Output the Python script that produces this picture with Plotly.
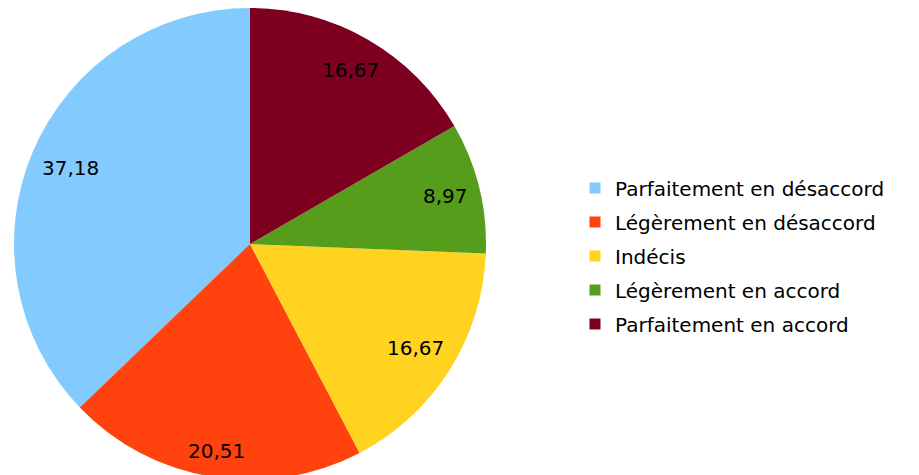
import math
import plotly.graph_objects as go

labels = ["Parfaitement en désaccord", "Légèrement en désaccord", "Indécis",
          "Légèrement en accord", "Parfaitement en accord"]
values = [37.18, 20.51, 16.67, 8.97, 16.67]
colors = ["#83CAFF", "#FF420E", "#FFD320", "#579D1C", "#7E0021"]

FONT = "DejaVu Sans, Verdana, sans-serif"
FS = 20
W, H = 911, 472          # page has an 8px body margin
R = H / 2                # pie radius (px)
CX, CY = 242, H / 2      # pie centre inside the figure (px)
dom_x = [(CX - R) / W, (CX + R) / W]

total = sum(values)
fig = go.Figure()
fig.add_trace(go.Pie(
    labels=labels, values=values, sort=False, direction="counterclockwise",
    rotation=-values[0] / total * 360,
    marker=dict(colors=colors, line=dict(width=0)),
    textinfo="none", hoverinfo="label+value", showlegend=False,
    domain=dict(x=dom_x, y=[0, 1]),
))

# value labels: placed inside each slice, box touching the outer part
def text_width(t, fs):
    return sum(0.318 * fs if c in ",." else 0.636 * fs for c in t)

cum = 0
for v in values:
    mid = math.radians((cum + v / 2) / total * 360)
    cum += v
    t = f"{v:.2f}".replace(".", ",")
    hw = text_width(t, FS) / 2 + 2
    hh = 0.68 * FS
    ext = abs(math.sin(mid)) * hw + abs(math.cos(mid)) * hh
    r = 0.968 * R - ext
    px = CX - r * math.sin(mid)
    py = CY - r * math.cos(mid)
    fig.add_annotation(x=px / W, y=1 - py / H, xref="paper", yref="paper",
                       text=t, showarrow=False, xanchor="center", yanchor="middle",
                       font=dict(family=FONT, size=FS, color="black"))

# legend entries
for i, (lab, col) in enumerate(zip(labels, colors)):
    fig.add_trace(go.Scatter(
        x=[None], y=[None], mode="markers", name=lab, legendgroup=f"g{i}",
        marker=dict(symbol="square", size=11, color=col, line=dict(width=0)),
        hoverinfo="skip",
    ))

fig.update_layout(
    width=W, height=H,
    margin=dict(l=0, r=0, t=0, b=0),
    paper_bgcolor="white", plot_bgcolor="white",
    font=dict(family=FONT, size=FS, color="black"),
    xaxis=dict(visible=False), yaxis=dict(visible=False),
    showlegend=True,
    legend=dict(x=567 / W, xanchor="left", y=1 - 248 / H, yanchor="middle",
                font=dict(family=FONT, size=FS, color="black"),
                tracegroupgap=5, bgcolor="rgba(0,0,0,0)"),
)

fig.write_html("out.html")
